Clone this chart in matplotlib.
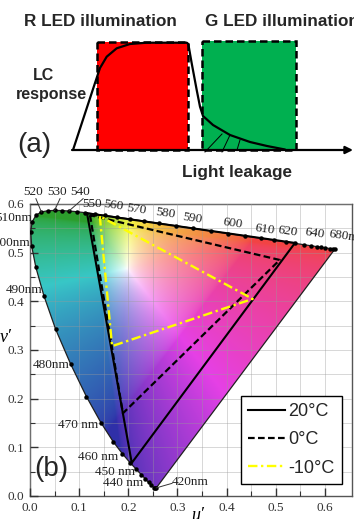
import numpy as np
import matplotlib
matplotlib.use('Agg')
import matplotlib.pyplot as plt
import matplotlib.colors as mcolors
from matplotlib.patches import Polygon, Rectangle
from matplotlib.lines import Line2D

# ---- panel (a) schematic, in picture pixels (x right, y down) ----
lc_x = [73, 95, 100, 106.7, 116.7, 130, 146.7, 186.7, 188.3, 191.7, 196.7, 200,
        203, 213, 230, 250, 267, 285]
lc_y = [150, 83, 68, 56.7, 48.3, 44, 42.7, 42.7, 44, 63.3, 90, 106.7,
        116, 125, 135, 142, 146, 149.5]
r_box = [97, 188, 42, 150]    # x0, x1, top, bottom
g_box = [202, 296, 41, 150]
hatch_x0 = [205, 222, 237]
hatch_y0 = [152, 152, 150]
hatch_x1 = [222, 230, 240]
hatch_y1 = [134, 135, 140]

# ---- panel (b) CIE 1976 u'v' spectral locus ----
wl = [380, 410, 420, 430, 435, 440, 445, 450, 455, 460, 465, 470, 475, 480, 485,
      490, 495, 500, 505, 510, 515, 520, 525, 530, 535, 540, 545, 550, 555, 560,
      565, 570, 575, 580, 585, 590, 595, 600, 605, 610, 615, 620, 625, 630, 635,
      640, 645, 650, 660, 670, 680]
loc_u = [0.2568, 0.2546, 0.2522, 0.2461, 0.2411, 0.2347, 0.2266, 0.2161, 0.2033,
         0.1877, 0.1690, 0.1441, 0.1147, 0.0828, 0.0521, 0.0282, 0.0119, 0.0035,
         0.0014, 0.0046, 0.0123, 0.0231, 0.0360, 0.0501, 0.0643, 0.0792, 0.0953,
         0.1127, 0.1319, 0.1531, 0.1766, 0.2026, 0.2312, 0.2623, 0.2960, 0.3315,
         0.3681, 0.4035, 0.4379, 0.4692, 0.4968, 0.5203, 0.5399, 0.5565, 0.5709,
         0.5830, 0.5929, 0.6005, 0.6109, 0.6162, 0.6199]
loc_v = [0.0166, 0.0159, 0.0169, 0.0226, 0.0279, 0.0350, 0.0437, 0.0549, 0.0688,
         0.0871, 0.1119, 0.1510, 0.2044, 0.2708, 0.3427, 0.4117, 0.4698, 0.5131,
         0.5432, 0.5638, 0.5770, 0.5837, 0.5861, 0.5868, 0.5865, 0.5856, 0.5841,
         0.5821, 0.5796, 0.5766, 0.5732, 0.5694, 0.5651, 0.5604, 0.5554, 0.5501,
         0.5446, 0.5393, 0.5342, 0.5296, 0.5254, 0.5219, 0.5190, 0.5165, 0.5143,
         0.5125, 0.5111, 0.5099, 0.5084, 0.5076, 0.5070]

# gamut triangles (G, B, R)
tri_20_u = [0.116, 0.207, 0.539]
tri_20_v = [0.581, 0.068, 0.520]
tri_0_u = [0.122, 0.189, 0.508]
tri_0_v = [0.577, 0.170, 0.485]
tri_m10_u = [0.142, 0.167, 0.453]
tri_m10_v = [0.575, 0.308, 0.405]

top_labels = ['520', '530', '540', '550', '560', '570', '580', '590', '600',
              '610', '620', '640']
top_lab_pos = [(0.006, 0.624), (0.055, 0.624), (0.102, 0.624), (0.126, 0.600),
               (0.169, 0.598), (0.217, 0.588), (0.276, 0.581), (0.331, 0.571),
               (0.413, 0.561), (0.478, 0.547), (0.524, 0.543), (0.579, 0.539)]
left_labels = ['510nm', '500nm', '490nm', '480nm', '470 nm', '460 nm', '450 nm',
               '440 nm']
left_lab_pos = [(0.004, 0.571), (0.000, 0.520), (0.026, 0.423), (0.081, 0.269),
                (0.138, 0.146), (0.179, 0.081), (0.213, 0.049), (0.230, 0.027)]

fig = plt.figure(figsize=(3.54, 5.19), dpi=100)

# ================= (a) =================
ax_a = fig.add_axes([0, 1 - 180 / 519, 1, 180 / 519])
ax_a.set_xlim(0, 354)
ax_a.set_ylim(180, 0)
ax_a.axis('off')

for box, col in [(r_box, '#ff0000'), (g_box, '#00b050')]:
    ax_a.add_patch(Rectangle((box[0], box[2]), box[1] - box[0], box[3] - box[2],
                             facecolor=col, edgecolor='none', zorder=1))
    ax_a.add_patch(Rectangle((box[0], box[2]), box[1] - box[0], box[3] - box[2],
                             facecolor='none', edgecolor='black', lw=1.8,
                             linestyle=(0, (3, 1.6)), zorder=2))
for i in range(len(hatch_x0)):
    ax_a.plot([hatch_x0[i], hatch_x1[i]], [hatch_y0[i], hatch_y1[i]],
              color='black', lw=0.7, zorder=3)
ax_a.annotate('', xy=(353, 150), xytext=(72, 150),
              arrowprops=dict(arrowstyle='-|>', lw=1.6, color='black',
                              mutation_scale=11, shrinkA=0, shrinkB=0), zorder=3)
ax_a.plot(lc_x, lc_y, color='black', lw=1.6, zorder=4, solid_capstyle='round')

txt = dict(family='Liberation Sans', color='#262626', weight='bold')
ax_a.text(100, 22, 'R LED illumination', fontsize=12.3, ha='center', va='center', **txt)
ax_a.text(205, 22, 'G LED illumination', fontsize=12.3, ha='left', va='center', **txt)
ax_a.text(44, 75, 'LC', fontsize=11.5, ha='center', va='center', **txt)
ax_a.text(51, 95, 'response', fontsize=11.5, ha='center', va='center', **txt)
ax_a.text(237, 172, 'Light leakage', fontsize=12.3, ha='center', va='center', **txt)
ax_a.text(17, 145, '(a)', fontsize=20, ha='left', va='center',
          family='Liberation Sans', color='#262626')

# ================= (b) =================
ax = fig.add_axes([30 / 354, 23 / 519, 322 / 354, 292 / 519])
ax.set_xlim(0, 0.655)
ax.set_ylim(0, 0.6)

# colour fill of the diagram
uu, vv = np.meshgrid(np.linspace(0, 0.66, 500), np.linspace(0.001, 0.61, 500))
d = 6 * uu - 16 * vv + 12
cx = 9 * uu / d
cy = 4 * vv / d
X = cx / cy
Y = np.ones_like(X)
Z = (1 - cx - cy) / cy
M = np.array([[3.2406, -1.5372, -0.4986],
              [-0.9689, 1.8758, 0.0415],
              [0.0557, -0.2040, 1.0570]])
rgb = np.einsum('ij,jkl->kli', M, np.array([X, Y, Z]))
rgb = np.clip(rgb, 0, None)
rgb = rgb / rgb.max(axis=2, keepdims=True)
rgb = np.where(rgb > 0.0031308, 1.055 * rgb ** (1 / 2.4) - 0.055, 12.92 * rgb)
rgb = np.clip(rgb, 0, 1)
# tone it down to the muted print look
hsv = mcolors.rgb_to_hsv(rgb)
hue_pts = [0, 1 / 6, 1 / 3, 1 / 2, 2 / 3, 5 / 6, 1]
val_pts = [0.95, 0.96, 0.62, 0.78, 0.66, 0.90, 0.95]
fh = np.interp(hsv[..., 0], hue_pts, val_pts)
hsv[..., 2] = 1 - (1 - fh) * hsv[..., 1]
hsv[..., 1] = 0.72 * hsv[..., 1] ** 0.75
rgb = mcolors.hsv_to_rgb(hsv)

im = ax.imshow(rgb, origin='lower', extent=(0, 0.66, 0.001, 0.61),
               aspect='auto', interpolation='bilinear', zorder=1)
locus = Polygon(np.column_stack([loc_u, loc_v]), closed=True,
                facecolor='none', edgecolor='#202020', lw=0.9, zorder=3)
ax.add_patch(locus)
im.set_clip_path(locus)
ax.plot(loc_u, loc_v, 'o', color='black', ms=2.2, zorder=4)

# grid
ax.set_xticks(np.arange(0, 0.65, 0.1))
ax.set_yticks(np.arange(0, 0.61, 0.1))
ax.set_xticks(np.arange(0.05, 0.65, 0.1), minor=True)
ax.set_yticks(np.arange(0.05, 0.6, 0.1), minor=True)
ax.grid(True, which='both', color='#9a9a9a', lw=0.6, alpha=0.45, zorder=2)
ax.set_axisbelow(False)
ax.tick_params(which='both', direction='in', colors='#333333',
               labelsize=9.5, pad=4)
ax.tick_params(which='major', length=6, width=1)
ax.tick_params(which='minor', length=3.5, width=0.8)
for lab in ax.get_xticklabels() + ax.get_yticklabels():
    lab.set_family('Liberation Serif')
ax.xaxis.set_major_formatter(matplotlib.ticker.FormatStrFormatter('%.1f'))
ax.yaxis.set_major_formatter(matplotlib.ticker.FormatStrFormatter('%.1f'))
for s in ax.spines.values():
    s.set_color('#555555')
    s.set_linewidth(1)

# triangles
ax.plot(tri_20_u + tri_20_u[:1], tri_20_v + tri_20_v[:1], color='black', lw=1.5,
        zorder=6)
ax.plot(tri_0_u + tri_0_u[:1], tri_0_v + tri_0_v[:1], color='black', lw=1.6,
        linestyle=(0, (3, 1.5)), zorder=6)
ax.plot(tri_m10_u + tri_m10_u[:1], tri_m10_v + tri_m10_v[:1], color='#ffff00',
        lw=1.7, linestyle=(0, (4, 1.5, 1, 1.5)), zorder=7)

# wavelength labels
serif = dict(family='Liberation Serif', fontsize=9.5, color='#222222')
for i, t in enumerate(top_labels):
    rot = -8 if i > 3 else 0
    ax.text(top_lab_pos[i][0], top_lab_pos[i][1], t, ha='center', va='center',
            rotation=rot, clip_on=False, zorder=8, **serif)
ax.text(0.606, 0.532, '680nm', ha='left', va='center', rotation=-8,
        clip_on=False, zorder=8, **serif)
for i, t in enumerate(left_labels):
    ax.text(left_lab_pos[i][0], left_lab_pos[i][1], t, ha='right', va='center',
            clip_on=False, zorder=8, **serif)
ax.text(0.289, 0.029, '420nm', ha='left', va='center', clip_on=False, zorder=8,
        **serif)
# leader lines
for w, (lu, lv) in zip([520, 530, 540], top_lab_pos[:3]):
    k = wl.index(w)
    ax.plot([lu + 0.006, loc_u[k]], [lv - 0.013, loc_v[k]], color='#333333',
            lw=0.7, clip_on=False, zorder=8)
k = wl.index(380)
ax.plot([loc_u[k], 0.275, 0.289], [loc_v[k], 0.022, 0.026], color='#333333',
        lw=0.7, zorder=8)

ax.text(0.34, -0.04, "u\u2032", fontsize=13, style='italic', ha='center',
        va='center', family='Liberation Serif', clip_on=False)
ax.text(-0.05, 0.325, "v\u2032", fontsize=13, style='italic', ha='center',
        va='center', family='Liberation Serif', clip_on=False)
ax.text(0.008, 0.055, '(b)', fontsize=20, ha='left', va='center',
        family='Liberation Sans', color='#262626', zorder=8)

handles = [Line2D([], [], color='black', lw=1.5),
           Line2D([], [], color='black', lw=1.6, linestyle=(0, (3, 1.5))),
           Line2D([], [], color='#ffff00', lw=1.7,
                  linestyle=(0, (4, 1.5, 1, 1.5)))]
leg = ax.legend(handles, ['20\u00b0C', '0\u00b0C', '-10\u00b0C'],
                loc='lower right', bbox_to_anchor=(0.634 / 0.655, 0.025 / 0.6),
                frameon=True, fancybox=False, framealpha=1, edgecolor='black',
                prop={'family': 'Liberation Sans', 'size': 13},
                handlelength=2.0, handletextpad=0.2, labelspacing=0.62,
                borderpad=0.4, borderaxespad=0)
leg.get_frame().set_linewidth(1)
leg.set_zorder(10)
for t in leg.get_texts():
    t.set_color('#262626')

fig.savefig('out.png', dpi=100)
